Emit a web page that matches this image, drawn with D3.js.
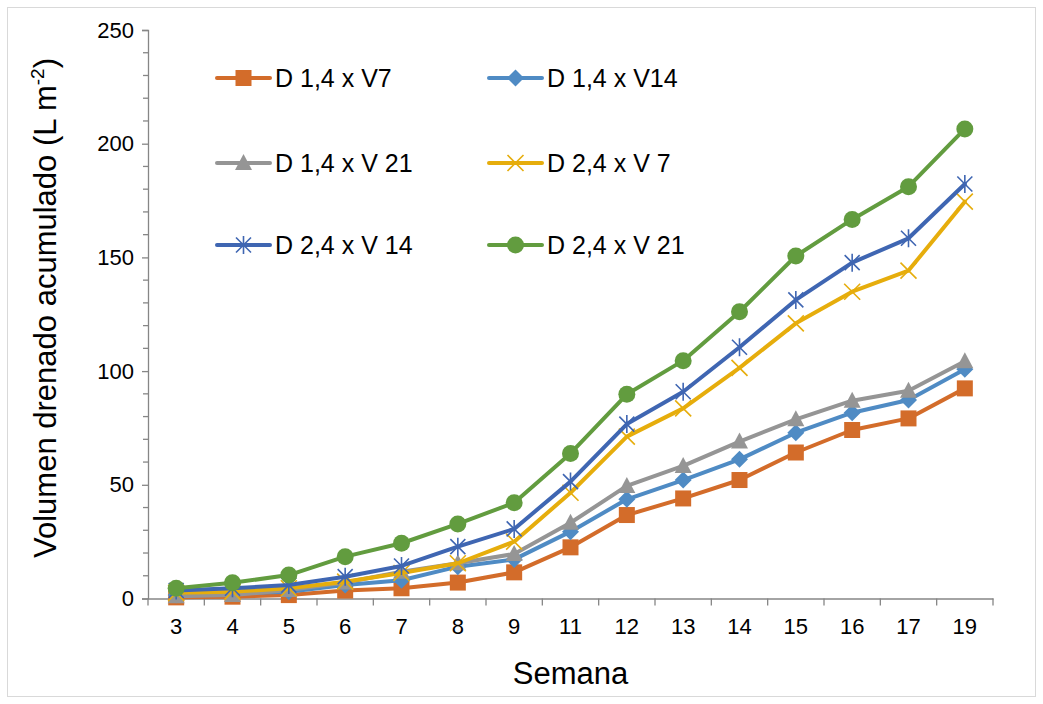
<!DOCTYPE html>
<html>
<head>
<meta charset="utf-8">
<script src="https://cdn.jsdelivr.net/npm/d3@7"></script>
<style>
  body { margin: 0; background: #fff; }
  text { font-family: "Liberation Sans", Arial, sans-serif; fill: #000; }
</style>
</head>
<body>
<script>
const weeks = ["3", "4", "5", "6", "7", "8", "9", "11", "12", "13", "14", "15", "16", "17", "19"];
const seriesNames = ["D 1,4 x V7", "D 1,4 x V14", "D 1,4 x V 21", "D 2,4 x V 7", "D 2,4 x V 14", "D 2,4 x V 21"];
const d14v7  = [0.5, 0.8, 1.5, 3.5, 4.5, 7.0, 11.5, 22.5, 36.7, 44.0, 52.1, 64.2, 74.1, 79.2, 92.4];
const d14v14 = [1.5, 2.3, 3.0, 5.9, 8.0, 14.0, 17.2, 29.4, 43.6, 52.1, 61.2, 72.9, 81.7, 87.3, 100.8];
const d14v21 = [1.0, 1.5, 3.7, 7.0, 11.8, 15.5, 19.6, 33.3, 49.5, 58.3, 69.0, 78.8, 87.0, 91.4, 104.3];
const d24v7  = [2.5, 3.0, 4.5, 7.4, 11.2, 15.5, 25.0, 46.5, 71.2, 83.6, 101.4, 121.0, 134.9, 144.2, 174.5];
const d24v14 = [3.5, 4.5, 5.9, 9.6, 14.3, 22.8, 30.6, 51.4, 76.7, 90.9, 110.5, 131.3, 147.7, 158.4, 182.3];
const d24v21 = [4.5, 6.9, 10.3, 18.4, 24.3, 32.8, 42.1, 63.8, 89.8, 104.6, 126.1, 150.6, 166.7, 181.1, 206.5];
const yTicks = [0, 50, 100, 150, 200, 250];

const allSeries = [d14v7, d14v14, d14v21, d24v7, d24v14, d24v21];
const colors = ["#D36C2A", "#4F8BC4", "#959595", "#E6AD0C", "#3F66B2", "#629C3F"];
const symbols = ["square", "diamond", "triangle", "x", "star", "circle"];

const W = 1043, H = 704;
const margin = {top: 30, right: 50, bottom: 105.5, left: 148};

const svg = d3.select("body").append("svg")
  .attr("width", W)
  .attr("height", H);

// chart frame
svg.append("rect")
  .attr("x", 7.5).attr("y", 7.5)
  .attr("width", 1028).attr("height", 689)
  .attr("fill", "none")
  .attr("stroke", "#D9D9D9")
  .attr("stroke-width", 1);

const g = svg.append("g")
  .attr("transform", `translate(${margin.left}, ${margin.top})`);

const width = W - margin.left - margin.right;
const height = H - margin.top - margin.bottom;

const x = d3.scaleBand().domain(weeks).range([0, width]);
const y = d3.scaleLinear().domain([0, 250]).range([height, 0]);

// y axis
const yAxis = g.append("g")
  .call(d3.axisLeft(y).tickValues(yTicks).tickSize(6).tickPadding(8));
yAxis.select(".domain").attr("stroke", "#868686").attr("stroke-width", 1.3);
yAxis.selectAll(".tick line").attr("stroke", "#868686").attr("stroke-width", 1.3);
yAxis.selectAll(".tick text").attr("font-size", 22).attr("font-family", "Liberation Sans, Arial, sans-serif");

// minor ticks
g.append("g").selectAll("line")
  .data(d3.range(0, 251, 10).filter(function(v) { return v % 50 !== 0; }))
  .enter().append("line")
    .attr("x1", -5).attr("x2", 0)
    .attr("y1", function(d) { return y(d); })
    .attr("y2", function(d) { return y(d); })
    .attr("stroke", "#868686")
    .attr("stroke-width", 1.3);

// x axis
const xAxis = g.append("g")
  .attr("transform", `translate(0, ${height})`)
  .call(d3.axisBottom(x).tickSize(0).tickPadding(20));
xAxis.select(".domain").attr("stroke", "#868686").attr("stroke-width", 1.3);
xAxis.selectAll(".tick text").attr("font-size", 22).attr("font-family", "Liberation Sans, Arial, sans-serif");
xAxis.append("g").selectAll("line")
  .data(weeks.concat(["end"]))
  .enter().append("line")
    .attr("x1", function(d, i) { return i * x.step(); })
    .attr("x2", function(d, i) { return i * x.step(); })
    .attr("y1", 0).attr("y2", 7)
    .attr("stroke", "#868686")
    .attr("stroke-width", 1.3);

// axis titles
svg.append("text")
  .attr("x", margin.left + width / 2)
  .attr("y", 684)
  .attr("text-anchor", "middle")
  .attr("font-size", 31)
  .text("Semana");

const yTitle = svg.append("text")
  .attr("transform", "translate(56, 308) rotate(-90)")
  .attr("text-anchor", "middle")
  .attr("font-size", 31);
yTitle.append("tspan").text("Volumen drenado acumulado (L m");
yTitle.append("tspan").attr("font-size", 19).attr("dy", -12).text("-2");
yTitle.append("tspan").attr("dy", 12).text(")");

// markers
const drawMarker = function(sel, type, color) {
  if (type === "square") {
    sel.append("rect").attr("x", -8).attr("y", -8).attr("width", 16).attr("height", 16).attr("fill", color);
  } else if (type === "diamond") {
    sel.append("path").attr("d", "M0,-8.5L8.5,0L0,8.5L-8.5,0Z").attr("fill", color);
  } else if (type === "triangle") {
    sel.append("path").attr("d", "M0,-9L8.5,7L-8.5,7Z").attr("fill", color);
  } else if (type === "circle") {
    sel.append("circle").attr("r", 8.5).attr("fill", color);
  } else if (type === "x") {
    sel.append("path").attr("d", "M-8,-8L8,8M-8,8L8,-8").attr("stroke", color).attr("stroke-width", 1.6).attr("fill", "none");
  } else if (type === "star") {
    sel.append("path").attr("d", "M-7.5,-7.5L7.5,7.5M-7.5,7.5L7.5,-7.5M0,-9L0,9").attr("stroke", color).attr("stroke-width", 1.6).attr("fill", "none");
  }
};

const line = d3.line()
  .x(function(d, i) { return x(weeks[i]) + x.bandwidth() / 2; })
  .y(function(d) { return y(d); });

allSeries.forEach(function(vals, s) {
  const sg = g.append("g");
  sg.append("path")
    .datum(vals)
    .attr("fill", "none")
    .attr("stroke", colors[s])
    .attr("stroke-width", 4)
    .attr("stroke-linejoin", "round")
    .attr("stroke-linecap", "round")
    .attr("d", line);
  sg.selectAll("g.pt")
    .data(vals)
    .enter().append("g")
      .attr("class", "pt")
      .attr("transform", function(d, i) {
        return `translate(${x(weeks[i]) + x.bandwidth() / 2}, ${y(d)})`;
      })
      .each(function() { drawMarker(d3.select(this), symbols[s], colors[s]); });
});

// legend
const legendPos = [[217, 78], [489, 78], [217, 163], [489, 163], [217, 245], [489, 245]];
seriesNames.forEach(function(name, i) {
  const lg = svg.append("g")
    .attr("transform", `translate(${legendPos[i][0]}, ${legendPos[i][1]})`);
  lg.append("line")
    .attr("x1", 0).attr("x2", 53)
    .attr("stroke", colors[i])
    .attr("stroke-width", 4)
    .attr("stroke-linecap", "round");
  const m = lg.append("g").attr("transform", "translate(26.5, 0)");
  drawMarker(m, symbols[i], colors[i]);
  lg.append("text")
    .attr("x", 58)
    .attr("y", 0)
    .attr("dy", "0.36em")
    .attr("font-size", 25)
    .text(name);
});
</script>
</body>
</html>
